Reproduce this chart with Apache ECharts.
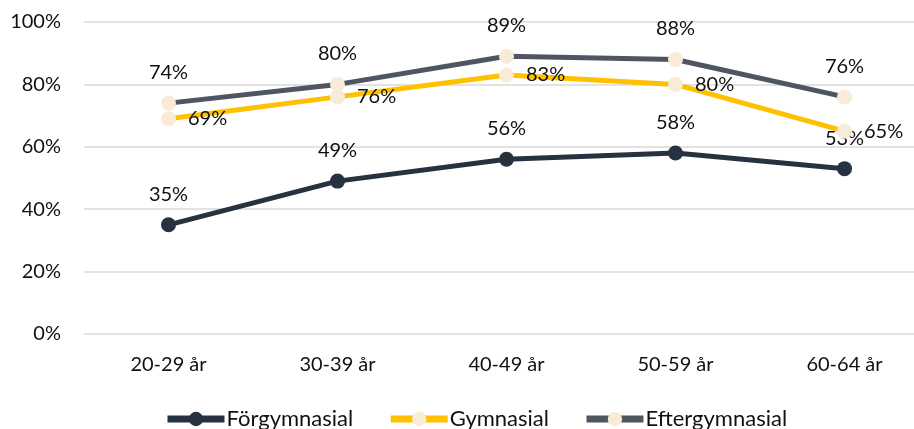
<!DOCTYPE html>
<html><head><meta charset="utf-8">
<script src="https://cdn.jsdelivr.net/npm/echarts@6/dist/echarts.min.js"></script>
<style>html,body{margin:0;padding:0;background:#fff}#c{width:914px;height:429px}</style>
</head><body><div id="c"></div>
<script>
const categories = ['20-29 år','30-39 år','40-49 år','50-59 år','60-64 år'];
const forgymnasial = [35, 49, 56, 58, 53];
const gymnasial = [69, 76, 83, 80, 65];
const eftergymnasial = [74, 80, 89, 88, 76];
const yTicks = [0, 20, 40, 60, 80, 100];

const font = "Lato, 'Open Sans', sans-serif";
const chart = echarts.init(document.getElementById('c'));
const lbl = (pos, dist) => ({show:true, position:pos, distance:dist, fontFamily:font, fontSize:20, color:'#111',
  formatter: p => Math.round(p.value) + '%'});
chart.setOption({
  animation:false,
  grid:{left:84, right:-15, top:22, bottom:95, outerBoundsMode:'none', containLabel:false},
  legend:{bottom:-6, left:159, itemWidth:57, itemHeight:18, itemGap:34,
    textStyle:{fontFamily:font, fontSize:22, color:'#111', padding:[0,0,0,-3]},
    data:[
      {name:'Förgymnasial', itemStyle:{color:'#263240'}, lineStyle:{width:7}},
      {name:'Gymnasial', itemStyle:{color:'#F8EBD8'}, lineStyle:{width:7}},
      {name:'Eftergymnasial', itemStyle:{color:'#F8EBD8'}, lineStyle:{width:7}}
    ]},
  xAxis:{type:'category', data:categories, boundaryGap:true,
    axisLine:{show:false}, axisTick:{show:false},
    axisLabel:{fontFamily:font, fontSize:20, color:'#111', margin:21}},
  yAxis:{type:'value', min:0, max:100, interval:20,
    axisLabel:{fontFamily:font, fontSize:20, color:'#111', margin:23, formatter: v => yTicks.includes(v) ? v + '%' : ''},
    splitLine:{lineStyle:{color:'#d9d9d9', width:1.5}}},
  series:[
    {name:'Förgymnasial', type:'line', data:forgymnasial, symbol:'circle', symbolSize:15,
      lineStyle:{color:'#263240', width:5}, itemStyle:{color:'#263240'}, label:lbl('top', 13), z:3},
    {name:'Gymnasial', type:'line', data:gymnasial, symbol:'circle', symbolSize:15,
      lineStyle:{color:'#FFC000', width:5}, itemStyle:{color:'#F8EBD8'}, label:lbl('right', 12), z:4},
    {name:'Eftergymnasial', type:'line', data:eftergymnasial, symbol:'circle', symbolSize:15,
      lineStyle:{color:'#4F5561', width:5}, itemStyle:{color:'#F8EBD8'}, label:lbl('top', 13), z:5}
  ]
});
</script></body></html>
